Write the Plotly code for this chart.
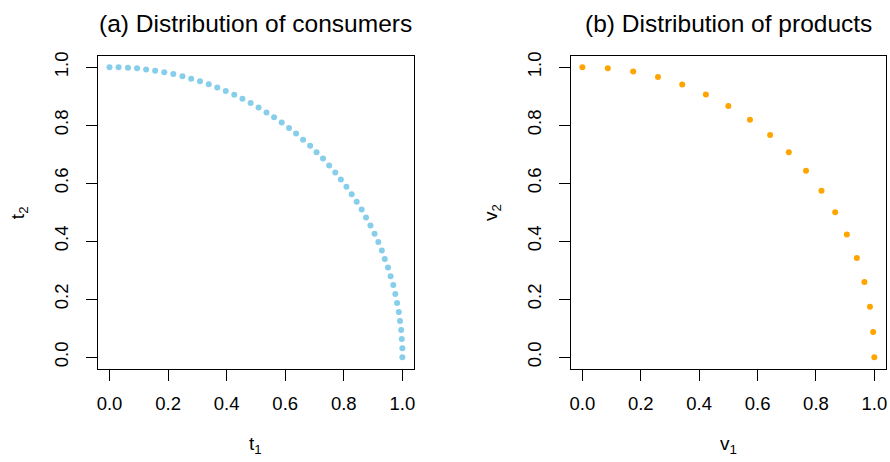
import plotly.graph_objects as go

# Consumers (panel a): 51 points
t1 = [0.000, 0.031, 0.063, 0.094, 0.125, 0.156, 0.187, 0.218, 0.249, 0.279,
      0.309, 0.339, 0.368, 0.397, 0.426, 0.454, 0.482, 0.509, 0.536, 0.562,
      0.588, 0.613, 0.637, 0.661, 0.685, 0.707, 0.729, 0.750, 0.771, 0.790,
      0.809, 0.827, 0.844, 0.861, 0.876, 0.891, 0.905, 0.918, 0.930, 0.940,
      0.951, 0.960, 0.969, 0.976, 0.982, 0.988, 0.992, 0.996, 0.998, 1.000, 1.000]
t2 = [1.000, 1.000, 0.998, 0.996, 0.992, 0.988, 0.982, 0.976, 0.969, 0.960,
      0.951, 0.941, 0.930, 0.918, 0.905, 0.891, 0.876, 0.861, 0.844, 0.827,
      0.809, 0.790, 0.771, 0.750, 0.729, 0.707, 0.685, 0.661, 0.637, 0.613,
      0.588, 0.562, 0.536, 0.509, 0.482, 0.454, 0.426, 0.397, 0.368, 0.339,
      0.309, 0.279, 0.249, 0.218, 0.187, 0.156, 0.125, 0.094, 0.063, 0.031, 0.000]

# Products (panel b): 19 points
v1 = [0.000, 0.087, 0.174, 0.259, 0.342, 0.423, 0.500, 0.574, 0.643, 0.707,
      0.766, 0.819, 0.866, 0.906, 0.940, 0.966, 0.985, 0.996, 1.000]
v2 = [1.000, 0.996, 0.985, 0.966, 0.940, 0.906, 0.866, 0.819, 0.766, 0.707,
      0.643, 0.574, 0.500, 0.423, 0.342, 0.259, 0.174, 0.087, 0.000]

tick_vals = [0.0, 0.2, 0.4, 0.6, 0.8, 1.0]
tick_text = ["0.0", "0.2", "0.4", "0.6", "0.8", "1.0"]

titles = ["(a) Distribution of consumers", "(b) Distribution of products"]
xlabels = ["t<sub>1</sub>", "v<sub>1</sub>"]
ylabels = ["t<sub>2</sub>", "v<sub>2</sub>"]

W, H = 890, 462
FONT = "Liberation Sans, Arial, sans-serif"

fig = go.Figure()
fig.add_trace(go.Scatter(x=t1, y=t2, mode="markers",
                         marker=dict(color="#87CEEB", size=6, line=dict(width=0)),
                         xaxis="x", yaxis="y", showlegend=False))
fig.add_trace(go.Scatter(x=v1, y=v2, mode="markers",
                         marker=dict(color="#FFA500", size=6, line=dict(width=0)),
                         xaxis="x2", yaxis="y2", showlegend=False))

ydom = [1 - 368 / H, 1 - 52 / H]
xdoms = [[97 / W, 414 / W], [571 / W, 887 / W]]

common = dict(range=[-0.04, 1.04], tickvals=tick_vals, ticktext=tick_text,
              showline=True, linecolor="black", linewidth=1, mirror=True,
              ticks="outside", ticklen=11, tickwidth=1, tickcolor="black",
              showgrid=False, zeroline=False,
              tickfont=dict(size=18.5, color="black", family=FONT))

fig.update_layout(
    width=W, height=H,
    margin=dict(l=0, r=0, t=0, b=0),
    paper_bgcolor="white", plot_bgcolor="white",
    font=dict(family=FONT, color="black"),
    xaxis=dict(domain=xdoms[0], anchor="y", ticklabelstandoff=7, **common),
    yaxis=dict(domain=ydom, anchor="x", tickangle=-90, ticklabelstandoff=10, **common),
    xaxis2=dict(domain=xdoms[1], anchor="y2", ticklabelstandoff=7, **common),
    yaxis2=dict(domain=ydom, anchor="x2", tickangle=-90, ticklabelstandoff=10, **common),
)

anns = []
for i in range(2):
    cx = (xdoms[i][0] + xdoms[i][1]) / 2
    anns.append(dict(text=titles[i], x=cx, y=1 - 20 / H, xref="paper", yref="paper",
                     showarrow=False, font=dict(size=24.5, color="black", family=FONT),
                     xanchor="center", yanchor="middle"))
    anns.append(dict(text=xlabels[i], x=cx, y=1 - 445 / H, xref="paper", yref="paper",
                     showarrow=False, font=dict(size=19, color="black", family=FONT),
                     xanchor="center", yanchor="middle"))
    yx = [18, 492][i]
    anns.append(dict(text=ylabels[i], x=yx / W, y=1 - 210 / H, xref="paper", yref="paper",
                     showarrow=False, textangle=-90,
                     font=dict(size=19, color="black", family=FONT),
                     xanchor="center", yanchor="middle"))
fig.update_layout(annotations=anns)

fig.write_html("out.html", config={"displayModeBar": False},
               post_script="document.body.style.margin='0px';document.body.style.overflow='hidden';")
